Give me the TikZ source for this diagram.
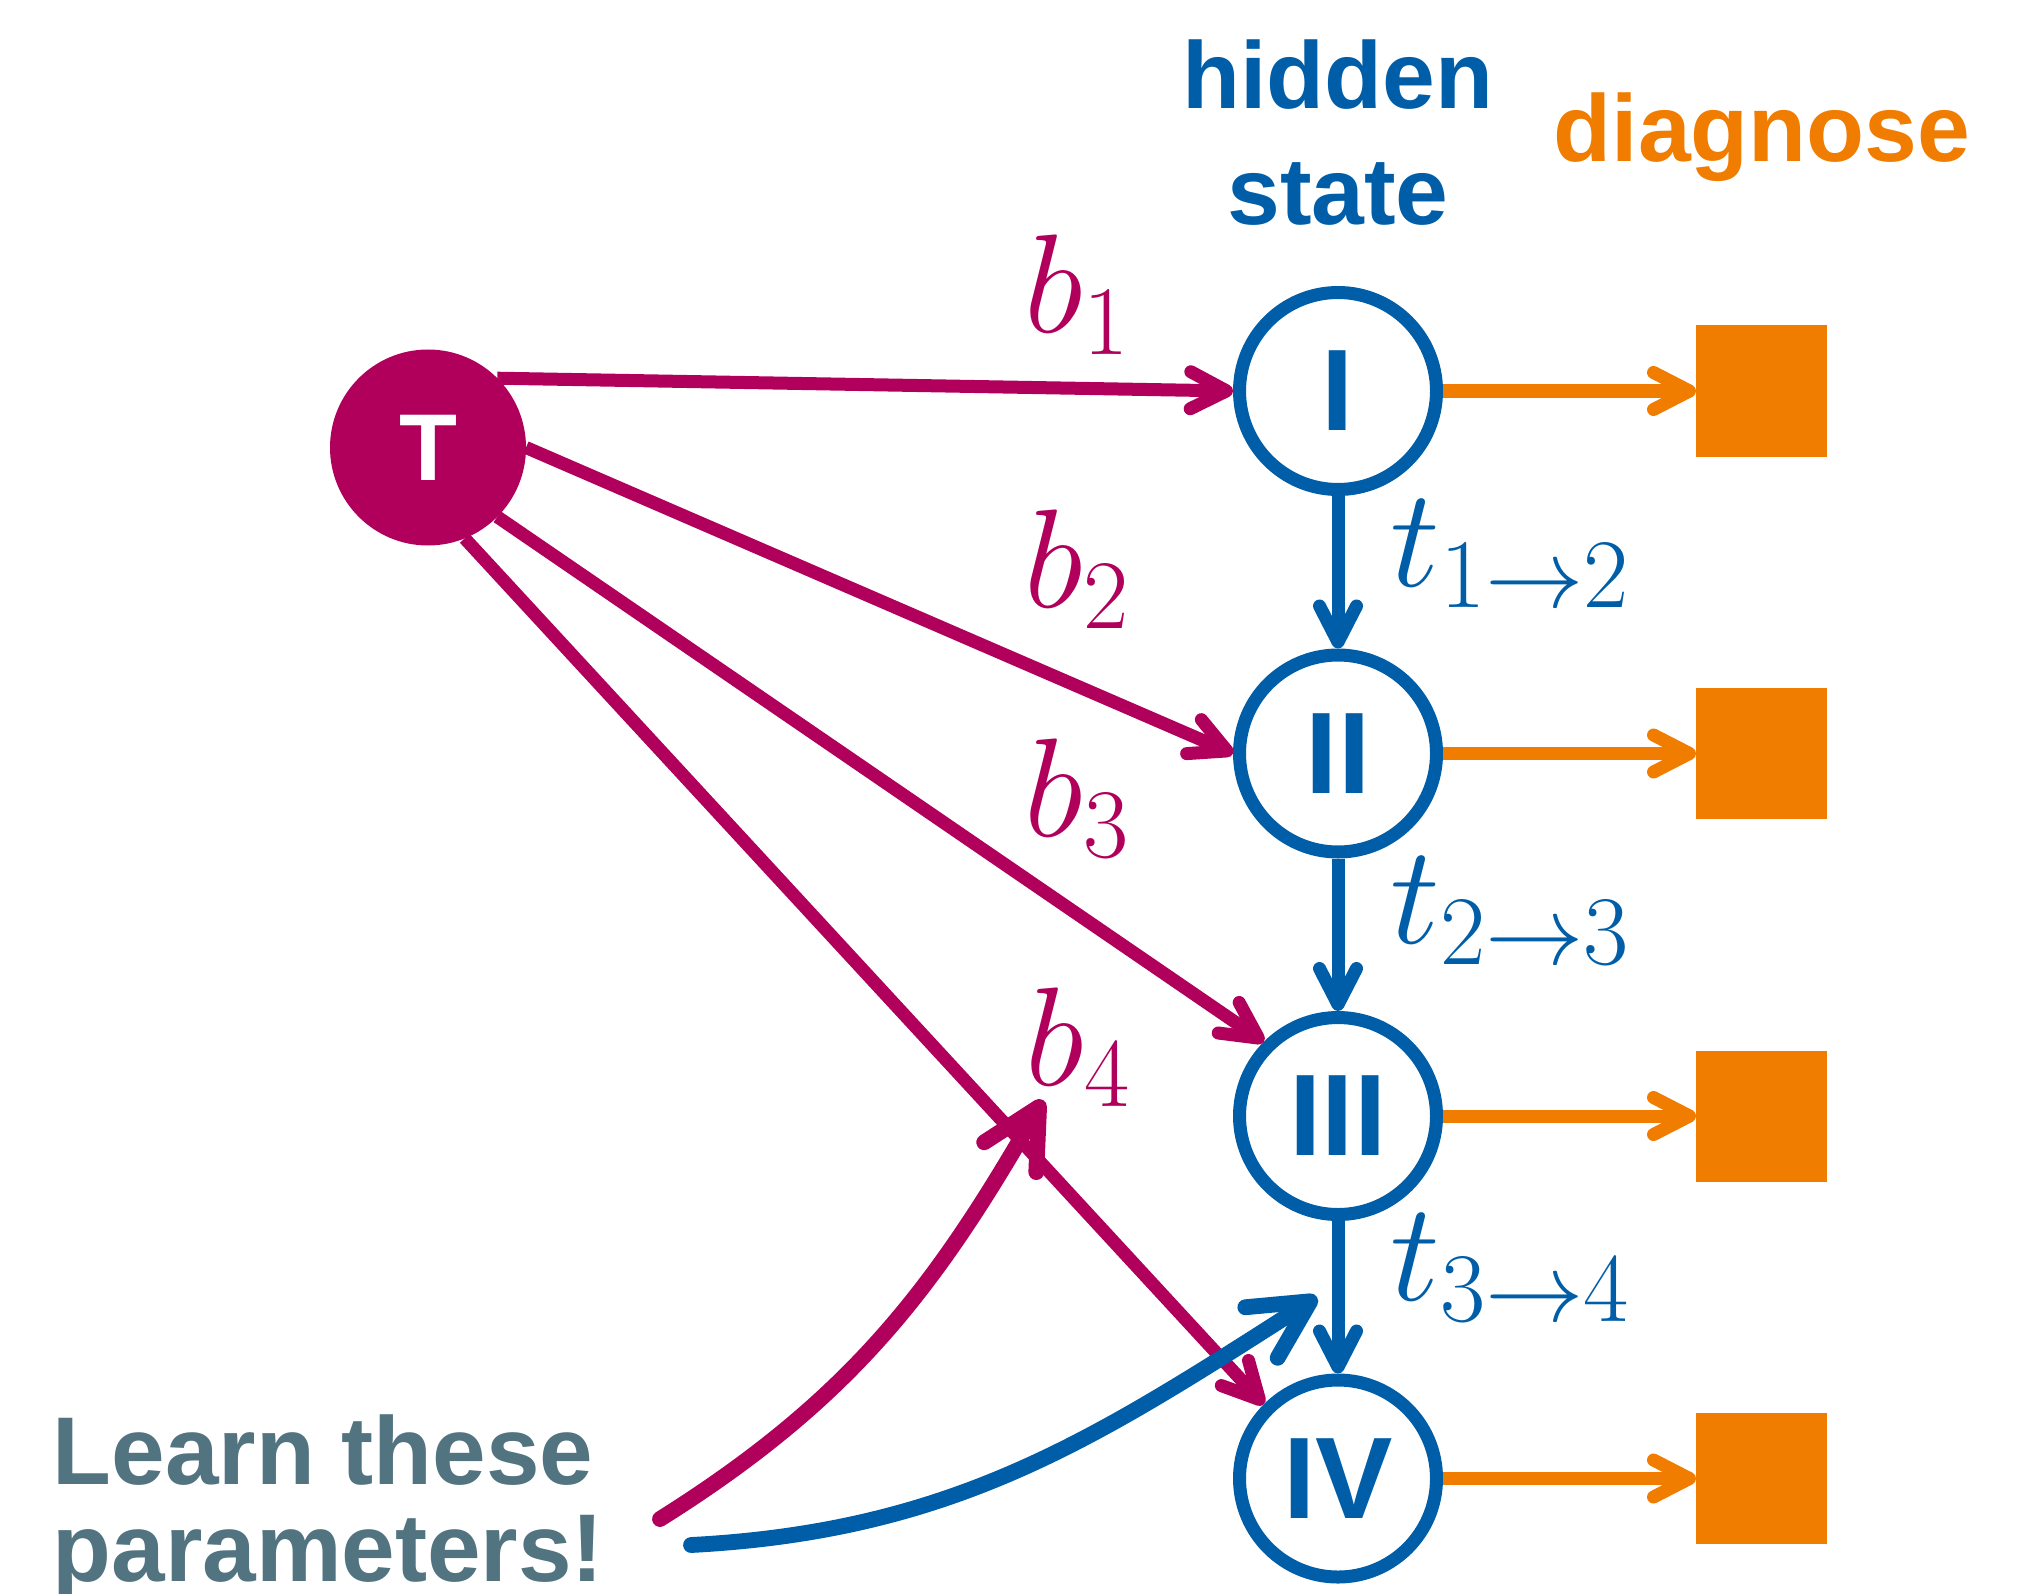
\RequirePackage{fix-cm}
\documentclass[tikz,border=0pt]{standalone}
\usepackage{fontspec}
\setsansfont{Liberation Sans}
\usepackage{amsmath}
\usepackage{tikz}
\usetikzlibrary{arrows.meta, positioning}
\definecolor{colMag}{RGB}{176,0,92}
\definecolor{colBlue}{RGB}{0,94,168}
\definecolor{colOrange}{RGB}{240,124,0}
\definecolor{colNote}{RGB}{82,115,128}

\begin{document}
\begin{tikzpicture}[
  tnode/.style={circle, fill=colMag, minimum size=1.96cm, inner sep=0pt, outer sep=0pt,
                text=white, font=\sffamily\bfseries\fontsize{27}{32}\selectfont},
  state/.style={circle, draw=colBlue, line width=3.7pt, minimum size=1.97cm, inner sep=0pt,
                text=colBlue, font=\sffamily\bfseries\fontsize{33}{40}\selectfont},
  diag/.style={rectangle, fill=colOrange, minimum size=1.31cm, inner sep=0pt, outer sep=0pt},
  head/.style={inner sep=0pt, font=\sffamily\bfseries\fontsize{27}{33}\selectfont},
  lbl/.style={inner sep=0pt, anchor=base west, font=\fontsize{40}{48}\selectfont},
  barb/.style={-{Straight Barb[length=3.6mm, width=3.7mm, round]}, line width=3.7pt},
  hand/.style={-{Straight Barb[length=5.8mm, width=6mm, round]}, line width=4.5pt, line cap=round},
]
\useasboundingbox (0,0) rectangle (20.24,-15.94);

\node[head, text=colBlue, align=center, anchor=north] (hid) at (13.38,-0.39) {hidden\\state};
\node[head, text=colOrange, anchor=base] (diagt) at (17.62,-1.62) {diagnose};

\node[tnode] (T) at (4.28,-4.475) {T};

\node[state] (I) at (13.38,-3.91) {I};
\node[state, below=1.525cm of I]   (II)  {II};
\node[state, below=1.525cm of II]  (III) {III};
\node[state, below=1.525cm of III] (IV)  {IV};

\node[diag, right=2.53cm of I]   (dI)   {};
\node[diag, right=2.53cm of II]  (dII)  {};
\node[diag, right=2.53cm of III] (dIII) {};
\node[diag, right=2.53cm of IV]  (dIV)  {};

% weights
\node[lbl, text=colMag] (b1) at (10.24,-3.33)  {$b_1$};
\node[lbl, text=colMag] (b2) at (10.24,-6.07)  {$b_2$};
\node[lbl, text=colMag] (b3) at (10.24,-8.36)  {$b_3$};
\node[lbl, text=colMag] (b4) at (10.25,-10.85) {$b_4$};

\node[lbl, text=colBlue] (t12) at (13.90,-5.86)  {$t_{1\rightarrow 2}$};
\node[lbl, text=colBlue] (t23) at (13.90,-9.43)  {$t_{2\rightarrow 3}$};
\node[lbl, text=colBlue] (t34) at (13.90,-13.00) {$t_{3\rightarrow 4}$};

\node[head, text=colNote, align=left, anchor=north west,
      font=\sffamily\bfseries\fontsize{27.4}{27.6}\selectfont] (learn) at (0.52,-14.14)
      {Learn these\\parameters!};

% arrows
\draw[barb, colMag] (T.45)  -- (I.west);
\draw[barb, colMag] (T.east) -- (II.west);
\draw[barb, colMag] (T.-45) -- (III.135);
\draw[barb, colMag] (T.-68) -- (IV.135);

\draw[barb, colBlue] (I)   -- (II);
\draw[barb, colBlue] (II)  -- (III);
\draw[barb, colBlue] (III) -- (IV);

\draw[barb, colOrange] (I)   -- (dI);
\draw[barb, colOrange] (II)  -- (dII);
\draw[barb, colOrange] (III) -- (dIII);
\draw[barb, colOrange] (IV)  -- (dIV);

\coordinate (m0) at (6.60,-15.19);
\coordinate (m1) at (10.43,-11.00);
\coordinate (c0) at (6.91,-15.45);
\coordinate (c1) at (13.17,-12.97);
\draw[hand, colMag]  (m0) .. controls (8.48,-14.01) and (9.33,-12.92) .. (m1);
\draw[hand, colBlue] (c0) .. controls (9.55,-15.31) and (10.95,-14.39) .. (c1);

\end{tikzpicture}
\end{document}
